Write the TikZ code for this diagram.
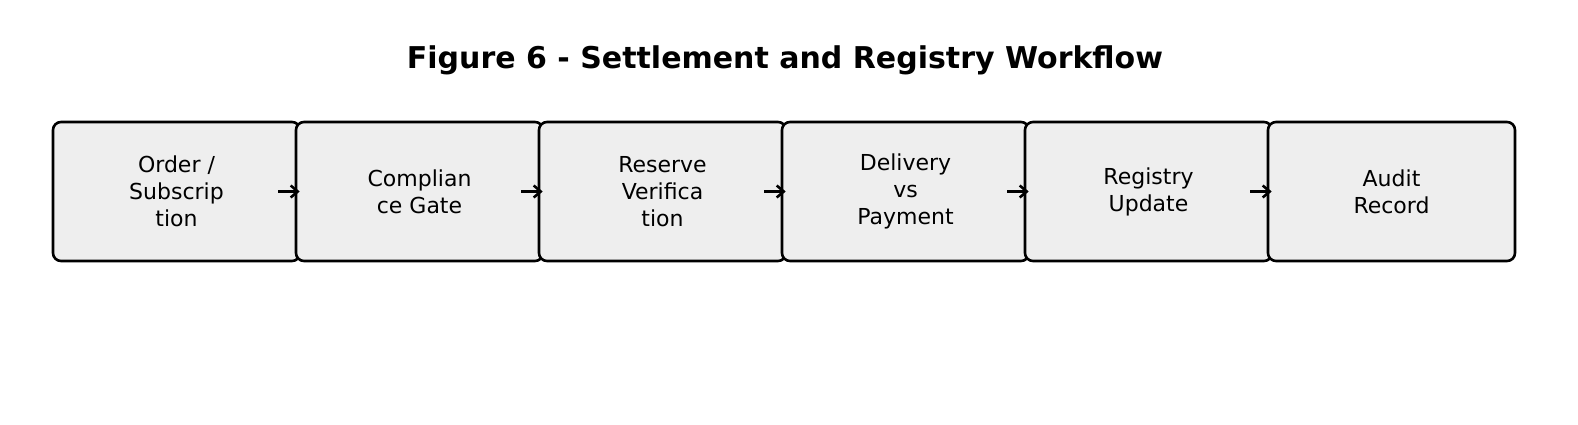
\documentclass[tikz,border=0pt]{standalone}
\usepackage{fontspec}
\setmainfont{DejaVu Sans}
\usetikzlibrary{calc}
\usetikzlibrary{arrows.meta}

\definecolor{boxgray}{HTML}{EEEEEE}
\tikzset{
  stage/.style={draw=black, line width=2.6pt, rounded corners=8pt, fill=boxgray,
    minimum width=247pt, minimum height=139pt, align=center, inner sep=2pt,
    font=\fontsize{22}{27}\selectfont},
  flow/.style={-{Straight Barb[length=7pt,width=12pt]}, line width=2.6pt}
}

\begin{document}
\begin{tikzpicture}[x=1pt,y=1pt]
\useasboundingbox (0,0) rectangle (1578,-425);

\node[font=\bfseries\fontsize{30}{36}\selectfont] (title) at (785,-60) {Figure 6 - Settlement and Registry Workflow};

\node[stage] (b1) at (176.5,-191.5) {Order /\\Subscrip\\tion};
\node[stage] (b2) at (419.5,-191.5) {Complian\\ce Gate};
\node[stage] (b3) at (662.5,-191.5) {Reserve\\Verifica\\tion};
\node[stage] (b4) at (905.5,-191.5) {Delivery\\vs\\Payment};
\node[stage] (b5) at (1148.5,-191.5) {Registry\\Update};
\node[stage] (b6) at (1391.5,-191.5) {Audit\\Record};

\foreach \a/\b in {b1/b2, b2/b3, b3/b4, b4/b5, b5/b6}
\draw[flow] ($(\a.east)+(-23,0)$) -- ($(\b.west)+(5,0)$);

\end{tikzpicture}
\end{document}
